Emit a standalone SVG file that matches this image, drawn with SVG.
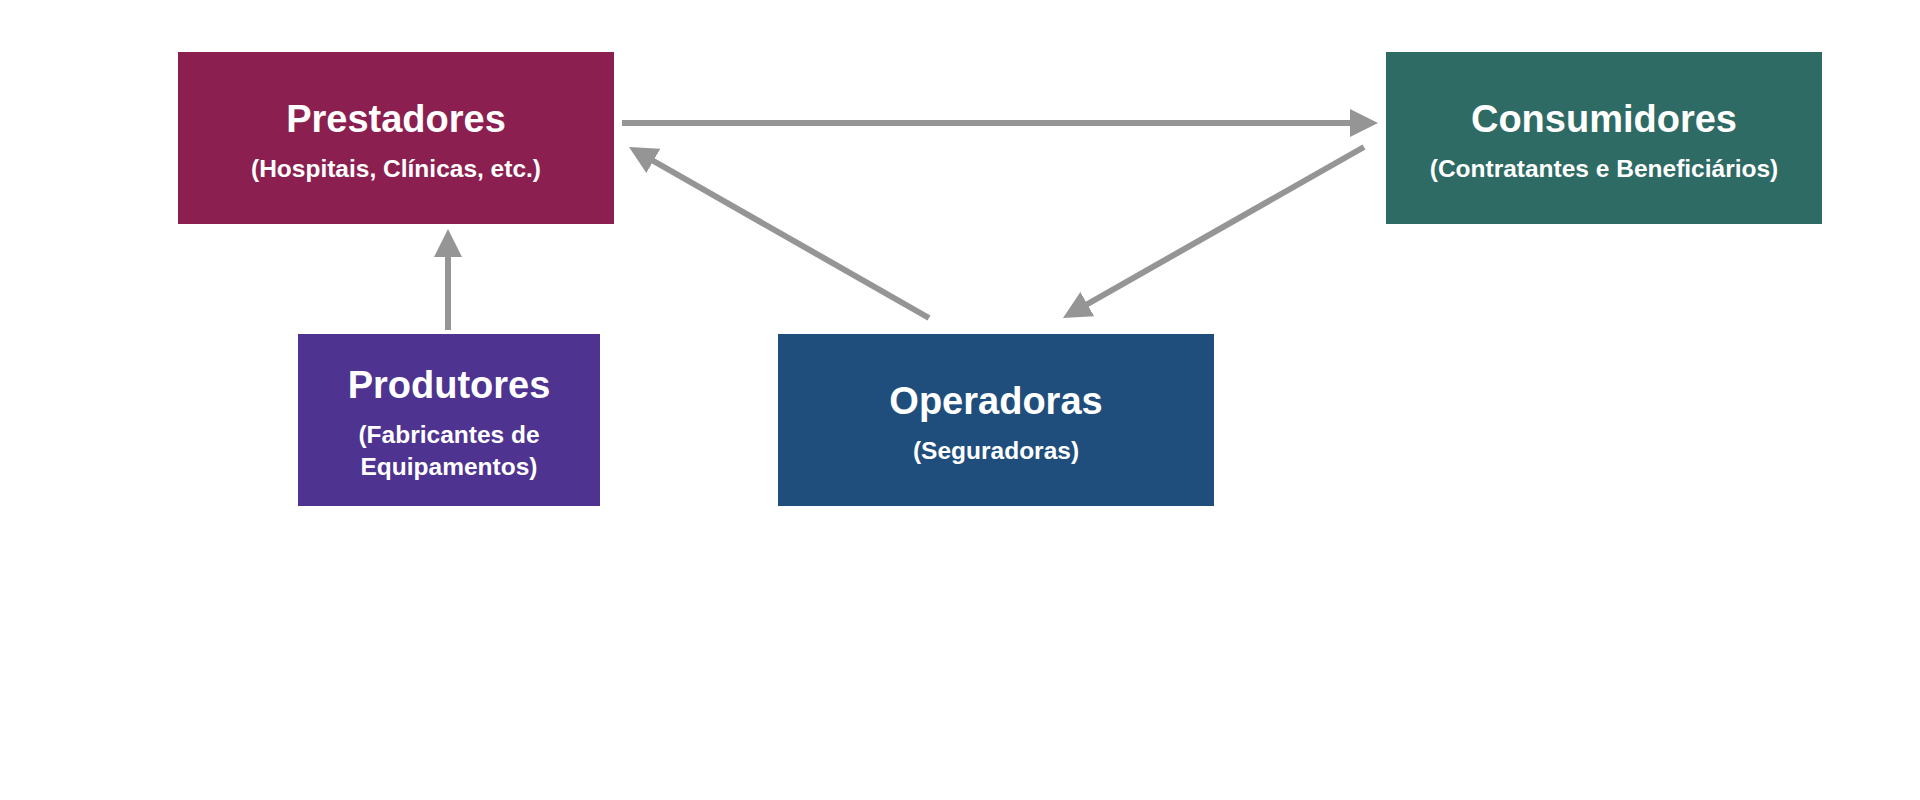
<svg xmlns="http://www.w3.org/2000/svg" width="1920" height="800" viewBox="0 0 1920 800">
<style>
.title{font-family:"Liberation Sans",Arial,Helvetica,sans-serif;font-weight:bold;font-size:38px;fill:#ffffff;text-anchor:middle}
.sub{font-family:"Liberation Sans",Arial,Helvetica,sans-serif;font-weight:bold;font-size:24.5px;fill:#ffffff;text-anchor:middle}
.conn{stroke:#959595;stroke-width:6;fill:none;marker-end:url(#arrow)}
</style>
<defs>
<marker id="arrow" markerUnits="userSpaceOnUse" markerWidth="28" markerHeight="28" viewBox="0 0 28 28" refX="22" refY="14" orient="auto">
<path d="M0,0 L28,14 L0,28 Z" fill="#959595"/>
</marker>
</defs>
<rect width="1920" height="800" fill="#ffffff"/>
<g id="prestadores">
<rect x="178" y="52" width="436" height="172" fill="#8B1F50"/>
<text class="title" x="396" y="132">Prestadores</text>
<text class="sub" x="396" y="177">(Hospitais, Clínicas, etc.)</text>
</g>
<g id="consumidores">
<rect x="1386" y="52" width="436" height="172" fill="#2E6B64"/>
<text class="title" x="1604" y="132">Consumidores</text>
<text class="sub" x="1604" y="177">(Contratantes e Beneficiários)</text>
</g>
<g id="produtores">
<rect x="298" y="334" width="302" height="172" fill="#4E3390"/>
<text class="title" x="449" y="398">Produtores</text>
<text class="sub" x="449" y="443">(Fabricantes de</text>
<text class="sub" x="449" y="475">Equipamentos)</text>
</g>
<g id="operadoras">
<rect x="778" y="334" width="436" height="172" fill="#1F4E7D"/>
<text class="title" x="996" y="414">Operadoras</text>
<text class="sub" x="996" y="459">(Seguradoras)</text>
</g>
<g id="connectors">
<line class="conn" x1="622" y1="123" x2="1372" y2="123"/>
<line class="conn" x1="448" y1="330" x2="448" y2="235"/>
<line class="conn" x1="929" y1="318" x2="634.2" y2="150"/>
<line class="conn" x1="1364" y1="147" x2="1068.2" y2="315"/>
</g>
</svg>
